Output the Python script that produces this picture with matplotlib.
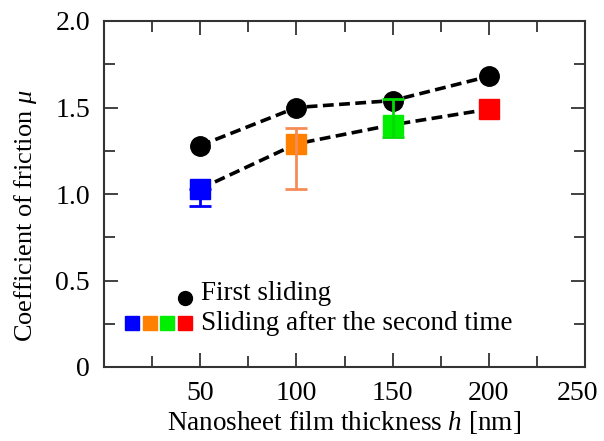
import matplotlib
matplotlib.use("Agg")
import matplotlib.pyplot as plt
from matplotlib.ticker import MultipleLocator, FixedLocator
from matplotlib.lines import Line2D
import matplotlib.transforms as mtransforms

plt.rcParams['font.family'] = ['Liberation Serif', 'DejaVu Serif']
plt.rcParams['mathtext.fontset'] = 'custom'
plt.rcParams['mathtext.it'] = 'Liberation Serif:italic'
plt.rcParams['mathtext.rm'] = 'Liberation Serif'

thickness = [50, 100, 150, 200]
first_mu = [1.28, 1.50, 1.54, 1.68]
second_mu = [1.03, 1.29, 1.40, 1.49]
second_err_low = [0.10, 0.26, 0.07, 0.0]
second_err_high = [0.0, 0.09, 0.15, 0.0]
square_colors = ['#0000ff', '#ff8000', '#00ee00', '#ff0000']
err_colors = ['#0000ff', '#f58c55', '#00dd00', '#ff0000']
x_ticklabels = ['50', '100', '150', '200', '250']
y_ticklabels = ['0', '0.5', '1.0', '1.5', '2.0']

fig = plt.figure(figsize=(6.04, 4.41), dpi=100)
ax = fig.add_axes([104/604, 1 - 367/441, (585-104)/604, (367-21)/441])

ax.plot(thickness, first_mu, linestyle=(0, (3, 1.5)), color='black', lw=2.6,
        marker='o', markersize=14, markerfacecolor='black', markeredgecolor='black', zorder=2)
ax.plot(thickness, second_mu, linestyle=(0, (3, 1.5)), color='black', lw=2.6, zorder=2)
for x, y, lo, hi, c, ec in zip(thickness, second_mu, second_err_low, second_err_high, square_colors, err_colors):
    ax.plot([x], [y], marker='s', markersize=14.5, color=c, linestyle='none', zorder=3)
    if lo > 0 or hi > 0:
        ax.errorbar([x], [y], yerr=[[lo], [hi]], fmt='none', ecolor=ec, elinewidth=2,
                    capsize=8, capthick=2, zorder=4)

ax.set_xlim(0, 250)
ax.set_ylim(0, 2.0)
ax.xaxis.set_major_locator(FixedLocator([50, 100, 150, 200, 250]))
ax.xaxis.set_minor_locator(MultipleLocator(25))
ax.yaxis.set_major_locator(FixedLocator([0, 0.5, 1.0, 1.5, 2.0]))
ax.yaxis.set_minor_locator(MultipleLocator(0.25))
ax.set_yticklabels(y_ticklabels)
ax.set_xticklabels(x_ticklabels)
ax.tick_params(which='both', direction='in', top=True, right=True, colors='#333333',
               labelcolor='black', labelsize=20, width=1.3)
ax.tick_params(which='major', length=10, pad=10)
ax.tick_params(which='minor', length=8)
for s in ax.spines.values():
    s.set_linewidth(1.5)
    s.set_color('#333333')

# shift the last x tick label slightly left so it stays inside the figure
last = ax.get_xticklabels()[-1]
last.set_transform(last.get_transform() + mtransforms.ScaledTranslation(-8/100, 0, fig.dpi_scale_trans))

ax.set_xlabel('Nanosheet film thickness $h$ [nm]', fontsize=19.5, labelpad=2)
ax.set_ylabel(r'Coefficient of friction $\mu$', fontsize=19)
ax.yaxis.set_label_coords(-0.135, 0.436)

# legend drawn manually
lx = [132, 150, 167, 185]
for xp, c in zip(lx, square_colors):
    fig.add_artist(Line2D([xp/604], [1 - 323/441], marker='s', markersize=10, color=c,
                          linestyle='none', transform=fig.transFigure))
fig.add_artist(Line2D([185/604], [1 - 298/441], marker='o', markersize=10, color='black',
                      linestyle='none', transform=fig.transFigure))
fig.text(201/604, 1 - 294/441, 'First sliding', fontsize=19.5, va='center', ha='left')
fig.text(201/604, 1 - 323/441, 'Sliding after the second time', fontsize=19.5, va='center', ha='left')

fig.savefig('out.png', dpi=100)
